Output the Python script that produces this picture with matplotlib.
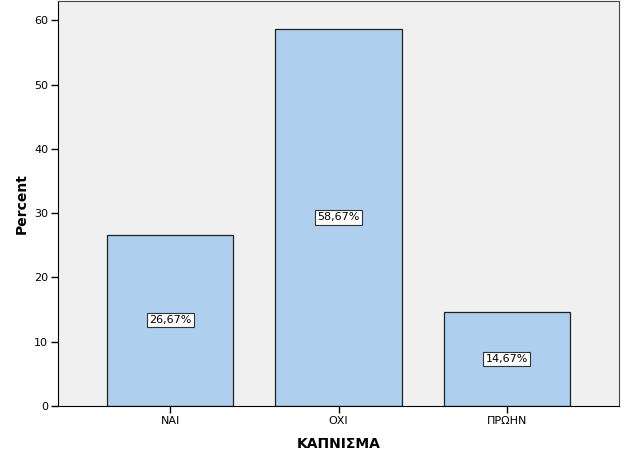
import matplotlib.pyplot as plt

categories = ['ΝΑΙ', 'ΟΧΙ', 'ΠΡΩΗΝ']
percent = [26.67, 58.67, 14.67]
labels = ['26,67%', '58,67%', '14,67%']

fig = plt.figure(figsize=(6.26, 4.66), dpi=100)
ax = fig.add_axes([58 / 626, 60 / 466, 561 / 626, 405 / 466])
ax.set_facecolor('#f0f0f0')

x = range(len(categories))
ax.bar(x, percent, width=0.75, color='#aecfee', edgecolor='#222222', linewidth=0.9, zorder=2)
for i, v in enumerate(percent):
    ax.text(i, v / 2, labels[i], ha='center', va='center', fontsize=8, zorder=3,
            bbox=dict(boxstyle='square,pad=0.2', facecolor='white', edgecolor='#333333', linewidth=0.8))

ax.set_xlim(-0.667, 2.667)
ax.set_ylim(0, 63)
ax.set_yticks([0, 10, 20, 30, 40, 50, 60])
ax.set_xticks(list(x))
ax.set_xticklabels(categories)
ax.tick_params(axis='both', labelsize=8, length=5, width=1, direction='out', pad=2)
for s in ['left', 'bottom']:
    ax.spines[s].set_color('black')
for s in ['top', 'right']:
    ax.spines[s].set_color('#444444')
ax.set_ylabel('Percent', fontsize=10, fontweight='bold', labelpad=4)
ax.set_xlabel('ΚΑΠΝΙΣΜΑ', fontsize=10, fontweight='bold', labelpad=8)

fig.savefig('out.png', dpi=100)
